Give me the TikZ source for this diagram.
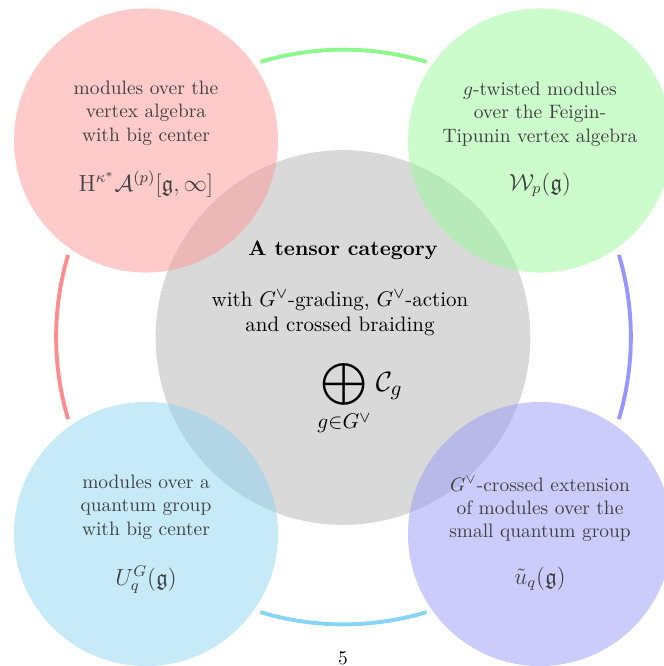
\documentclass[tikz,border=0pt]{standalone}
\usepackage{amsmath,amssymb}
\usetikzlibrary{calc}
\definecolor{redbase}{RGB}{255,150,150}
\definecolor{greenbase}{RGB}{153,249,153}
\definecolor{bluebase}{RGB}{153,153,249}
\definecolor{cyanbase}{RGB}{141,213,241}
\definecolor{grayfill}{RGB}{217,217,217}
\definecolor{redarc}{RGB}{255,140,140}
\definecolor{greenarc}{RGB}{140,248,140}
\definecolor{bluearc}{RGB}{150,150,255}
\definecolor{cyanarc}{RGB}{135,212,245}
\tikzset{
  bubble/.style={circle,inner sep=0pt,minimum size=136pt,fill opacity=0.5,draw=none},
  core/.style={circle,inner sep=0pt,minimum size=193pt,fill=grayfill,draw=none},
  ringarc/.style={line width=2pt},
  sidetext/.style={align=center,text=black!75,font=\normalsize},
  sideformula/.style={text=black!75,font=\large},
  coretext/.style={align=center,text=black,font=\fontsize{10.8}{13}\selectfont},
}
\begin{document}
\begin{tikzpicture}[x=0.515pt,y=-0.515pt]
\useasboundingbox (0,0) rectangle (664,666);
% ring arcs
\coordinate (ring) at (343.5,337);
\draw[ringarc,greenarc] ($(ring)+(73.2:148pt)$) arc[start angle=73.2,end angle=106.8,radius=148pt];
\draw[ringarc,redarc] ($(ring)+(163.4:148pt)$) arc[start angle=163.4,end angle=196.6,radius=148pt];
\draw[ringarc,cyanarc] ($(ring)+(253.2:148pt)$) arc[start angle=253.2,end angle=286.8,radius=148pt];
\draw[ringarc,bluearc] ($(ring)+(343.4:148pt)$) arc[start angle=343.4,end angle=376.6,radius=148pt];
% central circle
\node[core] (C) at (343,337.5) {};
% four bubbles
\node[bubble,fill=redbase] (R) at (146,140.5) {};
\node[bubble,fill=greenbase] (G) at (540,140.5) {};
\node[bubble,fill=cyanbase] (Q) at (146,534) {};
\node[bubble,fill=bluebase] (B) at (540,534) {};
% texts
\node[sidetext] (Rt) at (146,113) {modules over the\\vertex algebra\\with big center};
\node[sideformula] (Rf) at (146,184) {$\mathrm{H}^{\kappa^*}\mathcal{A}^{(p)}[\mathfrak{g},\infty]$};
\node[sidetext] (Gt) at (540,114) {$g$-twisted modules\\over the Feigin-\\Tipunin vertex algebra};
\node[sideformula] (Gf) at (540,185) {$\mathcal{W}_p(\mathfrak{g})$};
\node[sidetext] (Qt) at (146,507) {modules over a\\quantum group\\with big center};
\node[sideformula] (Qf) at (146,580) {$U_q^G(\mathfrak{g})$};
\node[sidetext] (Bt) at (540,509) {$G^\vee$-crossed extension\\of modules over the\\small quantum group};
\node[sideformula] (Bf) at (540,579) {$\tilde{u}_q(\mathfrak{g})$};
\node[coretext] (Ct) at (343,250) {\textbf{A tensor category}};
\node[coretext] (Cs) at (340,313) {with $G^\vee$-grading, $G^\vee$-action\\and crossed braiding};
\node[coretext,font=\fontsize{15.4}{18}\selectfont] (Cf) at (360,398) {$\displaystyle\bigoplus_{g\in G^\vee}\mathcal{C}_g$};
\node[anchor=base] (pg) at (343,664) {5};
\end{tikzpicture}
\end{document}
